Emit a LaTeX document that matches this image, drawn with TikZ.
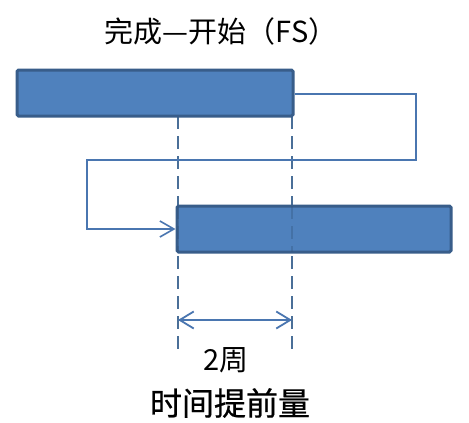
\documentclass[tikz,border=0pt]{standalone}
\usepackage{fontspec}
\newfontfamily\cjk{Noto Sans CJK SC}
\newfontfamily\cjkbold[FakeBold=0.6]{Noto Sans CJK SC}
\usetikzlibrary{arrows.meta}
\definecolor{barfill}{HTML}{4F81BD}
\definecolor{barline}{HTML}{385D8A}
\definecolor{connline}{HTML}{4A76B0}
\definecolor{dashline}{HTML}{4A6F98}
\tikzset{
  bar/.style={draw=barline, fill=barfill, line width=3pt, rounded corners=1.5pt, inner sep=0pt},
  conn/.style={draw=connline, line width=1.6pt, -{Straight Barb[length=14pt,width=16pt,line width=1.6pt]}},
  guide/.style={draw=dashline, line width=2pt, dash pattern=on 13pt off 7pt},
  span/.style={draw=connline, line width=1.8pt, {Straight Barb[length=14pt,width=17pt,line width=1.8pt]}-{Straight Barb[length=14pt,width=17pt,line width=1.8pt]}},
  lbl/.style={inner sep=0pt, text=black}
}
\begin{document}
\begin{tikzpicture}[x=1pt,y=-1pt]
\useasboundingbox[fill=white] (0,0) rectangle (469,423);
% guide lines (behind bars)
\coordinate (g1t) at (178,116);
\coordinate (g1b) at (178,355);
\coordinate (g2t) at (292,116);
\coordinate (g2b) at (292,355);
\draw[guide] (g1t) -- (g1b);
\draw[guide] (g2t) -- (g2b);
% bars
\node[bar, minimum width=276pt, minimum height=46pt] (bar1) at (155,93) {};
\node[bar, minimum width=274pt, minimum height=46pt] (bar2) at (314,229) {};
% dashed guides faintly visible through bar2
\draw[guide, draw=barline!90!black, opacity=0.35] (178,206) -- (178,252);
\draw[guide, draw=barline!90!black, opacity=0.35] (292,206) -- (292,252);
% connector
\coordinate (c1) at (416,94);
\coordinate (c2) at (416,160);
\coordinate (c3) at (87,160);
\draw[conn] (bar1.east |- c1) -- (c1) -- (c2) -- (c3) |- (bar2.west);
% span arrow
\coordinate (s1) at (178,320);
\coordinate (s2) at (292,320);
\draw[span] (s1) -- (s2);
% texts
\node[lbl, font=\cjk\fontsize{29}{34}\selectfont] (title) at (221,31) {完成—开始（FS）};
\node[lbl, font=\cjk\fontsize{29}{34}\selectfont] (weeks) at (226,360) {2周};
\node[lbl, font=\cjkbold\fontsize{32}{38}\selectfont] (lead) at (230,403) {时间提前量};
\end{tikzpicture}
\end{document}
